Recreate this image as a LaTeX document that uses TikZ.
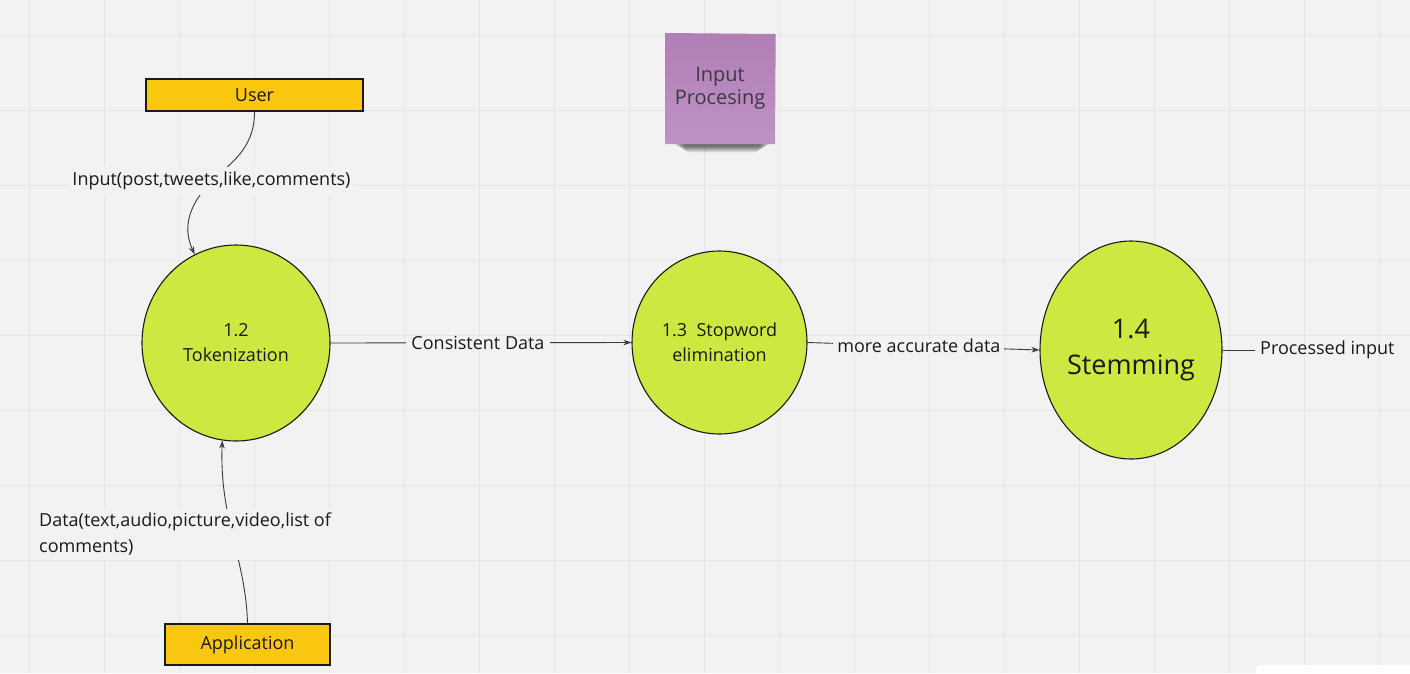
\documentclass[tikz,border=0pt]{standalone}
\usepackage{fontspec}
\setmainfont{Open Sans}
\usetikzlibrary{shapes.geometric,arrows.meta}
\definecolor{bg}{HTML}{F2F2F2}
\definecolor{gridc}{HTML}{E5E5E5}
\definecolor{amber}{HTML}{F9C710}
\definecolor{lime}{HTML}{CFE741}
\definecolor{stickA}{HTML}{B07EB4}
\definecolor{stickB}{HTML}{BF93C4}
\definecolor{ink}{HTML}{1A1A1A}
\definecolor{stickink}{HTML}{3C3848}
\definecolor{conn}{HTML}{3A3A3A}
\tikzset{
  lbl/.style={font=\fontsize{18}{26}\selectfont, text=ink, inner sep=0pt},
  proc/.style={ellipse, draw=ink, line width=1.1pt, fill=lime, inner sep=0pt,
    align=center, text=ink, font=\fontsize{18}{25}\selectfont},
  extent/.style={rectangle, draw=ink, line width=1.3pt, fill=amber, inner sep=0pt,
    text=ink, font=\fontsize{18}{22}\selectfont},
  flow/.style={draw=conn, line width=0.9pt, -{Stealth[length=8pt,width=5.5pt]}},
  plain/.style={draw=conn, line width=0.9pt}
}
\begin{document}
\begin{tikzpicture}[x=1pt,y=-1pt]
\clip (0,0) rectangle (1410,673);
\fill[bg] (0,0) rectangle (1410,673);
% grid
\foreach \x in {29,104,...,1410} \draw[gridc, line width=1pt] (\x,0) -- (\x,673);
\foreach \y in {35,110,...,673} \draw[gridc, line width=1pt] (0,\y) -- (1410,\y);
% white panel bottom right
\fill[white, rounded corners=4pt] (1256,665) rectangle (1430,700);

% sticky note
\foreach \i in {0,...,7}
  \fill[black, opacity=0.09, rounded corners=5pt] (674+\i*1.5,139+\i*0.2) rectangle (770-\i*1.5,146+\i*0.9);
\shade[top color=stickA, bottom color=stickB] (665.7,33) -- (775.7,34) -- (775,144) -- (665,144) -- cycle;
\node[font=\fontsize{20}{23}\selectfont, text=stickink, align=center] (note) at (720,88) {Input\\Procesing};

% external entities
\node[extent, minimum width=217pt, minimum height=32pt] (user) at (254.5,95) {User};
\node[extent, minimum width=165pt, minimum height=41pt] (app) at (247.5,644.5) {Application};

% processes
\node[proc, minimum width=188pt, minimum height=196pt] (tok) at (236,343) {1.2\\Tokenization};
\node[proc, minimum width=175pt, minimum height=183pt] (stop) at (719.5,342.5) {1.3\ \ Stopword\\elimination};
\node[proc, minimum width=182pt, minimum height=218pt, font=\fontsize{27}{36}\selectfont] (stem) at (1131,350) {1.4\\Stemming};

% User -> Tokenization
\draw[flow] (user.south) .. controls +(0,38) and +(18,-18) .. (212,181)
   .. controls +(-22,22) and +(-13,-28) .. (tok.115);
\node[lbl, fill=bg, inner xsep=2pt, inner ysep=5pt] (inlbl) at (211.5,181) {Input(post,tweets,like,comments)};

% Application -> Tokenization
\draw[flow] (app.north) .. controls +(-1.5,-64) and +(-3,79) .. (tok.262);
\node[lbl, fill=bg, anchor=west, align=left, inner xsep=0pt, inner ysep=4pt] (datalbl) at (39,534.5)
  {Data(text,audio,picture,video,list of\\comments)};

% Tokenization -> Stopword
\draw[flow] (tok.east) -- node[lbl, fill=bg, inner xsep=5pt, pos=0.49] (cdlbl) {Consistent Data} (stop.west);
% Stopword -> Stemming
\draw[flow] (stop.east) -- node[lbl, fill=bg, inner xsep=4pt, pos=0.48] (madlbl) {more accurate data} (stem.west);
% Stemming -> output
\node[lbl, anchor=west, inner xsep=5pt] (outlbl) at (1255,350) {Processed input};
\draw[plain] (stem.east) -- (outlbl.west);
\end{tikzpicture}
\end{document}
